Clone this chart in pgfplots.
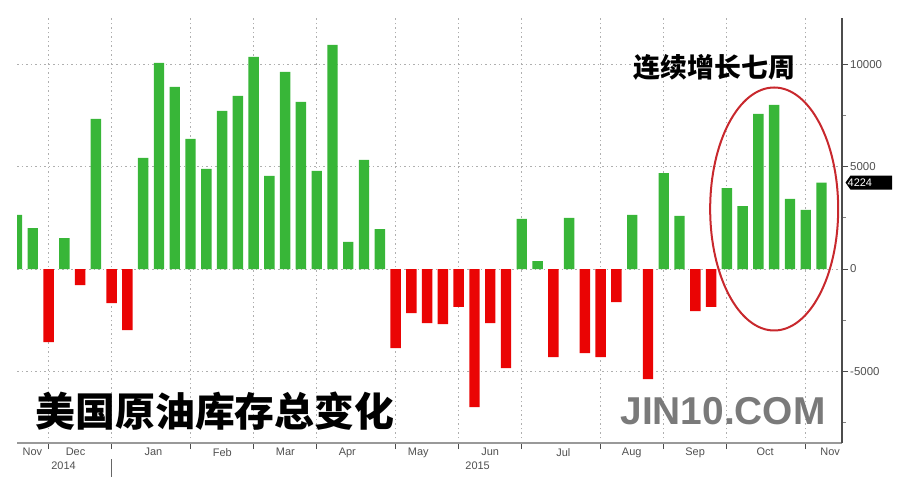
\documentclass[border=0pt]{standalone}
\usepackage{pgfplots}
\pgfplotsset{compat=1.18}
\usepackage{fontspec}
\setmainfont{Liberation Sans}
\newfontfamily\cjk{Noto Sans CJK SC}
\definecolor{barGreen}{RGB}{56,182,56}
\definecolor{barRed}{RGB}{234,4,4}
\definecolor{ringRed}{RGB}{200,40,45}
\definecolor{gridGray}{RGB}{175,175,175}
\definecolor{wm}{RGB}{122,122,122}
\definecolor{lbl}{RGB}{80,80,80}

\pgfplotstableread{
x y
0 2640
1 2004
3 1515
5 7332
8 5426
9 10069
10 8896
11 6354
12 4888
13 7723
14 8456
15 10363
16 4546
17 9629
18 8163
19 4790
20 10949
21 1320
22 5328
23 1955
32 2444
33 391
35 2493
39 2640
41 4692
42 2591
45 3959
46 3079
47 7576
48 8016
49 3422
50 2884
51 4224
}\pos

\pgfplotstableread{
x y
2 -3568
4 -782
6 -1662
7 -2982
24 -3862
25 -2151
26 -2640
27 -2688
28 -1857
29 -6745
30 -2640
31 -4839
34 -4301
36 -4106
37 -4301
38 -1613
40 -5377
43 -2053
44 -1857
}\neg

\newcommand{\ml}[3][-5bp]{\node[anchor=north, inner sep=0pt, font=\fontsize{11}{11}\selectfont, text=lbl, yshift=#1] at (axis cs:#2,-8504) {#3};}

\begin{document}
\begin{tikzpicture}
\begin{axis}[
  name=ax,
  scale only axis,
  width=825bp, height=425bp,
  xmin=0, xmax=52.3, ymin=-8504, ymax=12268,
  clip mode=individual,
  axis x line*=bottom, axis y line*=right,
  x axis line style={draw=black!40, line width=2bp},
  y axis line style={draw=black!70, line width=1.2bp},
  xtick={2,6,11,15,19,24,28,32,37,41,45,50},
  xticklabels={},
  xmajorgrids, ymajorgrids,
  grid style={gridGray, dash pattern=on 1.5bp off 3bp, line width=0.8bp},
  ytick={-5000,0,5000,10000},
  yticklabels={-5000,0,5000,10000},
  scaled y ticks=false,
  minor ytick={-7500,-2500,2500,7500},
  tick align=outside,
  major tick length=6bp, minor tick length=4bp,
  tick style={black!70, line width=1bp},
  minor tick style={black!50, line width=0.8bp},
  yticklabel style={font=\fontsize{11.5}{12}\selectfont, text=lbl, anchor=west, xshift=1bp, inner sep=1bp},
]
\addplot[ybar, bar width=0.66, bar shift=0pt, fill=barGreen, draw=none] table[x=x,y=y] {\pos};
\addplot[ybar, bar width=0.66, bar shift=0pt, fill=barRed, draw=none] table[x=x,y=y] {\neg};

% month labels
\ml{0.98}{Nov}
\ml{3.71}{Dec}
\ml{8.65}{Jan}
\ml{13.02}{Feb}
\ml{17.01}{Mar}
\ml{20.94}{Apr}
\ml{25.44}{May}
\ml{30.0}{Jun}
\ml{34.63}{Jul}
\ml{38.97}{Aug}
\ml{42.99}{Sep}
\ml{47.43}{Oct}
\ml{51.55}{Nov}
\ml[-19bp]{2.95}{2014}
\ml[-19bp]{29.2}{2015}
\draw[black!60, line width=0.8bp] ([yshift=-16bp]axis cs:6,-8504) -- ([yshift=-34bp]axis cs:6,-8504);

% last value tag
\fill[black] ([xshift=3.5bp]axis cs:52.3,4224) -- ([xshift=8.5bp,yshift=7bp]axis cs:52.3,4224) -- ([xshift=50bp,yshift=7bp]axis cs:52.3,4224) -- ([xshift=50bp,yshift=-7bp]axis cs:52.3,4224) -- ([xshift=8.5bp,yshift=-7bp]axis cs:52.3,4224) -- cycle;
\node[anchor=west, inner sep=0pt, text=white, font=\fontsize{11}{11}\selectfont] at ([xshift=5.5bp]axis cs:52.3,4224) {4224};

% annotations
\draw[ringRed, line width=2bp] (axis cs:48.0,2933) ellipse [x radius=64bp, y radius=121.5bp];
\node[anchor=west, inner sep=0pt, font=\cjk\bfseries\fontsize{27}{27}\selectfont] at (axis cs:39.07,9874) {连续增长七周};
\node[anchor=west, inner sep=0pt, font=\cjk\bfseries\fontsize{40}{40}\selectfont] at (axis cs:1.17,-6941) {美国原油库存总变化};
\node[anchor=west, inner sep=0pt, text=wm, font=\bfseries\fontsize{39}{39}\selectfont] at (axis cs:38.24,-6941) {JIN10.COM};
\end{axis}
\pgfresetboundingbox
\path[use as bounding box] ([xshift=-17bp,yshift=-40bp]ax.south west) rectangle ([xshift=74bp,yshift=18bp]ax.north east);
\end{tikzpicture}
\end{document}
